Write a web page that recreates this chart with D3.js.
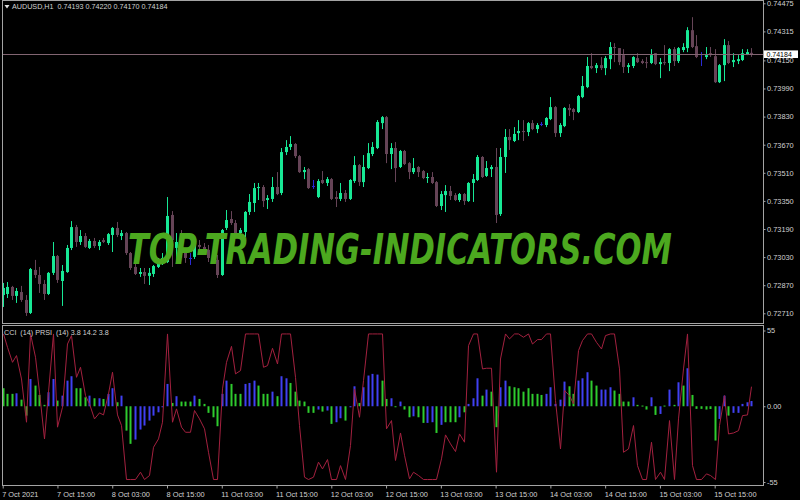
<!DOCTYPE html>
<html><head><meta charset="utf-8">
<script src="https://cdn.jsdelivr.net/npm/d3@7"></script>
<style>
html,body{margin:0;padding:0;background:#000;}
svg{display:block;}
text{font-family:"Liberation Sans",Arial,sans-serif;}
</style></head><body>
<svg id="c" width="800" height="500"></svg>
<script>
// ---------------- DATA ----------------
const symbolTitle = "AUDUSD,H1";
const lastQuote = [0.74193, 0.74220, 0.74170, 0.74184];
const indicatorTitle = "CCI  (14) PRSI  (14) 3.8 14.2 3.8";
const timeLabels = ["7 Oct 2021","7 Oct 15:00","8 Oct 03:00","8 Oct 15:00","11 Oct 03:00","11 Oct 15:00",
  "12 Oct 03:00","12 Oct 15:00","13 Oct 03:00","13 Oct 15:00","14 Oct 03:00","14 Oct 15:00","15 Oct 03:00","15 Oct 15:00"];
const barsPerLabel = 12;
const priceTicks = [0.74475,0.74315,0.74150,0.73990,0.73830,0.73670,0.73510,0.73350,0.73190,0.73030,0.72870,0.72710];
const indTicks = [55, 0, -55];

const open = [.72814,.72820,.72860,.72809,.72831,.72786,.72712,.72957,.72928,.72877,
.72820,.72940,.73036,.72894,.72945,.73082,.73201,.73116,.73150,.73082,
.73122,.73093,.73127,.73110,.73156,.73196,.73150,.73167,.73053,.72974,
.72934,.72945,.72923,.72934,.72974,.72996,.73002,.73270,.73082,.73116,
.73059,.73025,.73031,.73099,.73088,.73071,.73025,.73014,.72928,.73196,
.73247,.73224,.73167,.73173,.73287,.73338,.73423,.73429,.73355,.73361,
.73429,.73395,.73628,.73657,.73674,.73605,.73514,.73531,.73435,.73372,
.73469,.73452,.73474,.73372,.73361,.73395,.73361,.73463,.73554,.73457,
.73537,.73617,.73651,.73793,.73827,.73617,.73651,.73543,.73634,.73565,
.73514,.73543,.73520,.73480,.73486,.73457,.73321,.73383,.73406,.73383,
.73355,.73389,.73349,.73452,.73469,.73600,.73492,.73531,.73543,.73275,
.73600,.73714,.73691,.73736,.73748,.73742,.73793,.73759,.73788,.73782,
.73816,.73884,.73736,.73776,.73879,.73873,.73856,.73941,.73998,.74118,
.74106,.74123,.74106,.74157,.74226,.74220,.74180,.74112,.74118,.74163,
.74146,.74140,.74135,.74191,.74129,.74140,.74135,.74214,.74146,.74209,
.74220,.74322,.74231,.74186,.74169,.74191,.74174,.74026,.74123,.74237,
.74140,.74146,.74152,.74186,.74193];
const high = [.72883,.72888,.72866,.72854,.72866,.72814,.72968,.73014,.72974,.72900,
.72945,.73116,.73042,.72985,.73099,.73235,.73213,.73184,.73167,.73133,
.73139,.73127,.73139,.73167,.73201,.73230,.73184,.73173,.73059,.73002,
.72968,.72968,.72968,.72985,.73025,.73053,.73372,.73292,.73167,.73184,
.73082,.73053,.73127,.73127,.73110,.73099,.73071,.73042,.73190,.73298,
.73292,.73241,.73196,.73292,.73389,.73452,.73452,.73440,.73383,.73486,
.73514,.73651,.73696,.73719,.73679,.73611,.73543,.73537,.73469,.73474,
.73520,.73486,.73480,.73406,.73452,.73412,.73474,.73605,.73560,.73611,
.73679,.73685,.73810,.73833,.73833,.73679,.73685,.73640,.73640,.73571,
.73594,.73548,.73526,.73509,.73514,.73463,.73406,.73440,.73435,.73395,
.73395,.73395,.73457,.73503,.73611,.73605,.73577,.73554,.73651,.73651,
.73759,.73759,.73770,.73810,.73810,.73799,.73810,.73793,.73799,.73827,
.73941,.73890,.73793,.73884,.73901,.73879,.73953,.74061,.74169,.74191,
.74135,.74169,.74174,.74254,.74248,.74220,.74214,.74135,.74174,.74191,
.74157,.74169,.74214,.74191,.74163,.74237,.74220,.74226,.74226,.74248,
.74339,.74396,.74294,.74197,.74226,.74226,.74214,.74129,.74271,.74260,
.74191,.74180,.74214,.74214,.74220];
const low = [.72746,.72797,.72786,.72769,.72775,.72695,.72706,.72911,.72826,.72786,
.72814,.72928,.72883,.72752,.72940,.73070,.73088,.73099,.73082,.73076,
.73082,.73070,.73110,.73099,.73059,.73144,.73127,.73042,.72957,.72928,
.72917,.72877,.72871,.72917,.72968,.72985,.72996,.72974,.73002,.73025,
.72997,.72985,.73019,.73071,.73053,.73002,.72997,.72911,.72923,.73184,
.73213,.73150,.73144,.73144,.73270,.73287,.73355,.73315,.73304,.73344,
.73383,.73383,.73611,.73640,.73594,.73509,.73474,.73418,.73418,.73366,
.73446,.73435,.73355,.73315,.73349,.73344,.73355,.73452,.73435,.73429,
.73531,.73605,.73645,.73759,.73565,.73531,.73457,.73537,.73554,.73474,
.73503,.73486,.73474,.73452,.73446,.73315,.73298,.73287,.73355,.73349,
.73344,.73327,.73344,.73344,.73463,.73480,.73486,.73486,.73224,.73264,
.73509,.73640,.73685,.73696,.73691,.73719,.73753,.73736,.73776,.73770,
.73810,.73714,.73714,.73770,.73833,.73810,.73850,.73935,.73992,.74100,
.74078,.74095,.74066,.74100,.74140,.74123,.74078,.74078,.74106,.74135,
.74129,.74106,.74129,.74123,.74049,.74123,.74089,.74118,.74135,.74197,
.74197,.74220,.74163,.74118,.74157,.74169,.74021,.74021,.74032,.74129,
.74112,.74129,.74146,.74180,.74170];
const close = [.72854,.72860,.72809,.72837,.72786,.72712,.72962,.72928,.72877,.72820,
.72940,.73036,.72900,.72951,.73082,.73201,.73116,.73150,.73088,.73122,
.73093,.73116,.73116,.73161,.73196,.73156,.73167,.73053,.72968,.72934,
.72945,.72923,.72940,.72979,.72996,.73025,.73264,.73127,.73116,.73059,
.73025,.73025,.73099,.73088,.73071,.73025,.73014,.72928,.73184,.73241,
.73224,.73167,.73184,.73287,.73344,.73423,.73429,.73349,.73366,.73429,
.73389,.73628,.73657,.73674,.73605,.73514,.73526,.73423,.73435,.73463,
.73452,.73474,.73361,.73361,.73395,.73361,.73469,.73554,.73457,.73543,
.73622,.73657,.73799,.73827,.73617,.73651,.73537,.73634,.73560,.73514,
.73537,.73514,.73480,.73486,.73452,.73321,.73389,.73406,.73378,.73355,
.73389,.73349,.73452,.73474,.73600,.73486,.73537,.73543,.73270,.73600,
.73714,.73696,.73731,.73748,.73742,.73793,.73759,.73782,.73788,.73822,
.73884,.73736,.73782,.73879,.73867,.73856,.73947,.74004,.74118,.74106,
.74123,.74106,.74163,.74226,.74220,.74140,.74112,.74123,.74169,.74140,
.74135,.74135,.74180,.74129,.74140,.74135,.74214,.74146,.74220,.74226,
.74322,.74226,.74169,.74186,.74180,.74180,.74026,.74123,.74237,.74135,
.74152,.74157,.74191,.74197,.74184];

const cci = [13.1,9,9,9.4,4.8,-6.8,19.8,15,8.2,1,
10.2,19.8,4.1,7.7,18.6,21.8,13.1,13.1,6.5,7.7,
5.8,5.8,5.3,9,13.1,2.9,7.7,-17.7,-27.3,-24.2,
-16.9,-14,-10.4,-6.8,-4.4,-0.7,16.2,2.4,7.3,3.4,
3.4,3.4,7.7,5.3,1.7,-4.8,-8,-14.5,9,18.6,
16.2,9,9,16.2,16.9,18.6,15,9,9,10.6,
7.3,21.8,20.3,16.9,10.6,4.1,3.4,-4.8,-4.8,-2.4,
-3.9,-3.1,-12.8,-11.6,-8.7,-10.4,-0.7,14.5,2.4,13.8,
22.3,23.5,23,18.6,5.3,5.8,-0.7,3.4,-2.4,-8,
-7.3,-8,-12.1,-12.1,-11.6,-19.4,-13.5,-11.6,-11.6,-11.6,
-8,-4.4,1.7,5.8,20.3,7.7,12.1,10.6,-15.2,13.8,
18.6,14.5,13.8,13.1,10.6,13.1,9,9,8.2,9,
13.8,1.7,4.8,17.9,14.5,9,18.6,20.3,24.7,18.6,
15,12.1,12.1,13.8,11.4,9,3.4,3.4,6.5,1,
0.5,-2.4,6.5,-6.3,-5.6,0.5,12.1,1,17.4,15,
27.6,8.2,-1.9,-1.9,-2.4,-2,-24.9,-9.2,7.7,-6.8,
-4.8,-4.8,1.7,2.9,3.8];
// histogram buffer: 1 = blue buffer, 0 = green buffer
const cciBuffer = [0,0,0,1,0,0,1,0,0,0,
1,1,0,1,1,1,0,0,0,1,
0,1,0,1,1,0,1,0,0,1,
1,1,1,1,1,1,1,0,1,0,
0,0,1,0,0,0,0,0,1,1,
0,0,0,1,1,1,0,0,0,1,
0,1,1,0,0,0,0,0,0,1,
0,1,0,1,1,0,1,1,0,1,
1,1,1,0,0,1,0,1,0,0,
1,0,0,1,1,0,1,0,0,0,
1,0,1,1,1,0,1,0,0,1,
1,0,0,0,0,0,0,0,0,1,
1,1,1,1,0,0,1,1,1,0,
0,1,1,1,0,0,0,0,1,0,
0,0,1,0,1,0,1,0,1,0,
1,0,0,0,0,0,0,1,1,0,
1,1,1,1,1];
const prsi = [52.5,42.8,31.9,36.8,19.8,-11.6,52.5,35.6,10.2,-23.7,
10.2,52.5,-15.2,-0.7,45.2,51.3,21,28.3,7.7,1.7,
-9.2,-4.8,-6.3,9,24.7,-6.3,-14,-53.2,-53.2,-53.2,
-47.9,-53.2,-50.3,-29.8,-23.7,-11.6,52.5,-11.6,-1.9,-15.2,
-18.9,-18.9,-3.1,-9.2,-16.4,-33.4,-53.2,-53.2,12.6,31.9,
43.5,23.5,25.9,52.5,52.5,52.5,52.5,28.3,29.5,42.1,
30.7,52.5,52.5,52.5,21,-14,-51.5,-53.2,-51.5,-40.6,
-45.5,-38.7,-53.2,-53.2,-43.1,-53.2,-28.5,12.6,-8,18.6,
52.5,52.5,52.5,52.5,-16.4,-10.4,-39.4,-19.4,-35.6,-52.7,
-47.9,-50.3,-53.2,-53.2,-53.2,-53.2,-38.2,-20.8,-27.3,-32.9,
-20.1,-26.1,44,52.5,52.5,27.1,27.6,27.6,-47.9,34.3,
52.5,48.9,52.5,52.5,50.1,52.5,45.2,48.4,48.4,52.5,
52.5,4.1,-31,11.4,7.7,1.7,40.4,47.7,52.5,52.5,
46.4,41.6,51.3,52.5,52.5,27.1,-33.4,-31,-14,-43.1,
-53.2,-53.2,-26.1,-53.2,-47.9,-53.2,-10.4,-53.2,-9.2,27.1,
52.5,-43.1,-53.2,-53.2,-49.1,-50.3,-53.2,-14,7.7,-20.1,
-19.4,-17.7,-6.8,-6.3,14.2];

// ---------------- DRAW ----------------
const svg = d3.select("#c");
const W = 800, H = 500;
const plotL = 2.5, plotR = 763.5;
const mainTop = 0.5, mainBot = 323.5;
const indTop = 325.5, indBot = 485.5;
const n = open.length;
const txt = "#d2d2d2", frame = "#a4a4a4";
const bull = "#17e895", bear = "#664457", doji = "#2a2ad6";

svg.append("rect").attr("width", W).attr("height", H).attr("fill", "#000");

const x = d3.scaleLinear().domain([0, n - 1]).range([2.7, 2.7 + (n - 1) * 4.564]);
const y = d3.scaleLinear().domain([0.72710, 0.74475]).range([313.3, 3.3]);
const yi = d3.scaleLinear().domain([-55, 55]).range([482, 330.5]);

const defs = svg.append("defs");
defs.append("clipPath").attr("id", "clipMain").append("rect")
  .attr("x", plotL).attr("y", mainTop).attr("width", plotR - plotL).attr("height", mainBot - mainTop);
defs.append("clipPath").attr("id", "clipInd").append("rect")
  .attr("x", plotL).attr("y", indTop).attr("width", plotR - plotL).attr("height", indBot - indTop);

// ---- candles
const idx = d3.range(n);
const colorOf = i => close[i] > open[i] ? bull : (close[i] < open[i] ? bear : doji);
const gC = svg.append("g").attr("clip-path", "url(#clipMain)");
gC.selectAll("line.wick").data(idx).join("line")
  .attr("x1", i => Math.round(x(i)) + 0.5).attr("x2", i => Math.round(x(i)) + 0.5)
  .attr("y1", i => y(high[i])).attr("y2", i => y(low[i]))
  .attr("stroke", colorOf).attr("stroke-width", 1);
gC.selectAll("rect.body").data(idx).join("rect")
  .attr("x", i => Math.round(x(i)) - 1).attr("width", 3)
  .attr("y", i => Math.min(y(open[i]), y(close[i])))
  .attr("height", i => Math.max(1, Math.abs(y(open[i]) - y(close[i]))))
  .attr("fill", colorOf);

// current price line
const lastPrice = lastQuote[3];
svg.append("line").attr("x1", plotL).attr("x2", plotR)
  .attr("y1", Math.round(y(lastPrice)) + 0.5).attr("y2", Math.round(y(lastPrice)) + 0.5)
  .attr("stroke", "#826572").attr("stroke-width", 1);

// watermark (scaled horizontally so its real box spans x 128..672)
const wm = svg.append("text").attr("x", 0).attr("y", 0)
  .style("font-family", "'DejaVu Sans',sans-serif").style("font-weight", "bold")
  .style("font-style", "italic").style("font-size", "42px")
  .attr("fill", "#4ca81f").text("TOP-TRADING-INDICATORS.COM");
const wmW = wm.node().getComputedTextLength();
wm.attr("transform", `translate(128,264) scale(${544 / wmW},1)`);

// ---- indicator
const gI = svg.append("g").attr("clip-path", "url(#clipInd)");
gI.selectAll("rect.cci").data(idx).join("rect")
  .attr("x", i => Math.round(x(i)) - 0.5).attr("width", 2)
  .attr("y", i => Math.min(yi(cci[i]), yi(0)))
  .attr("height", i => Math.max(1, Math.abs(yi(cci[i]) - yi(0))))
  .attr("fill", i => cciBuffer[i] === 1 ? "#4040f2" : "#2ecb2e");
gI.append("path").datum(idx)
  .attr("d", d3.line().x(i => Math.round(x(i)) + 0.5).y(i => yi(prsi[i])))
  .attr("fill", "none").attr("stroke", "#a3213f").attr("stroke-width", 1);

// ---- frames
[[mainTop, mainBot], [indTop, indBot]].forEach(([t, b]) => {
  svg.append("rect").attr("x", plotL).attr("y", t).attr("width", plotR - plotL).attr("height", b - t)
    .attr("fill", "none").attr("stroke", frame).attr("stroke-width", 1);
});

// ---- price axis
const axP = svg.append("g").attr("transform", `translate(${plotR},0)`)
  .call(d3.axisRight(y).tickValues(priceTicks).tickFormat(d3.format(".5f")).tickSize(2).tickPadding(1.5));
axP.select(".domain").remove();
axP.selectAll("line").attr("stroke", frame);
axP.selectAll("text").attr("fill", txt).style("font-size", "7.4px").style("font-family", "'Liberation Sans',Arial,sans-serif");

// last price tag
const ly = y(lastPrice);
svg.append("rect").attr("x", plotR + 0.5).attr("y", ly - 4).attr("width", 34).attr("height", 7.6).attr("fill", "#fff");
svg.append("text").attr("x", plotR + 3).attr("y", ly - 0.2).attr("dy", "0.34em")
  .attr("fill", "#000").style("font-size", "7px").text(d3.format(".5f")(lastPrice));

// ---- indicator axis
const axI = svg.append("g").attr("transform", `translate(${plotR},0)`)
  .call(d3.axisRight(yi).tickValues(indTicks).tickFormat(d => d === 0 ? "0.00" : String(d)).tickSize(2).tickPadding(1.5));
axI.select(".domain").remove();
axI.selectAll("line").attr("stroke", frame);
axI.selectAll("text").attr("fill", txt).style("font-size", "7.4px").style("font-family", "'Liberation Sans',Arial,sans-serif");

// ---- time axis
const tickIdx = timeLabels.map((_, k) => k * barsPerLabel);
const axT = svg.append("g").attr("transform", `translate(0,${indBot})`)
  .call(d3.axisBottom(x).tickValues(tickIdx).tickFormat((d, k) => timeLabels[k]).tickSize(3).tickPadding(2.8));
axT.select(".domain").remove();
axT.selectAll("line").attr("stroke", frame);
axT.selectAll("text").attr("fill", txt).attr("text-anchor", "start").attr("x", -1)
  .style("font-size", "7.4px").style("font-family", "'Liberation Sans',Arial,sans-serif");

// ---- titles
svg.append("path").attr("d", "M4.5,5 L9.5,5 L7,8.5 Z").attr("fill", "#e0e0e0");
svg.append("text").attr("x", 12).attr("y", 6.8).attr("dy", "0.35em").attr("fill", txt)
  .style("font-size", "7.2px").style("white-space", "pre")
  .text(symbolTitle + "  " + lastQuote.map(d3.format(".5f")).join(" "));
svg.append("text").attr("x", 4).attr("y", 332).attr("dy", "0.35em").attr("fill", txt)
  .style("font-size", "7.2px").style("white-space", "pre").text(indicatorTitle);
</script>
</body></html>
